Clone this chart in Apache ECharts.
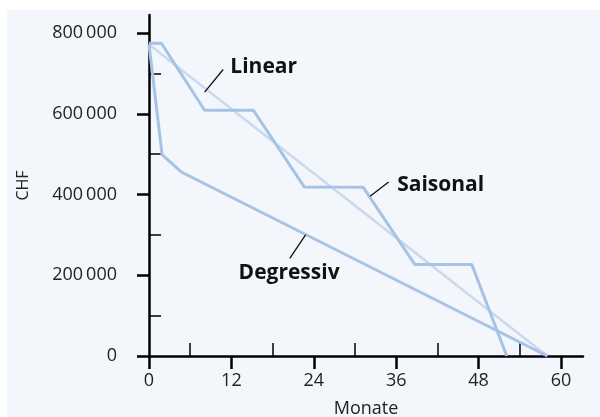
<!DOCTYPE html>
<html>
<head>
<meta charset="utf-8">
<script src="https://cdn.jsdelivr.net/npm/echarts@6/dist/echarts.min.js"></script>
<style>
  html, body { margin: 0; padding: 0; background: #ffffff; }
  #main { width: 600px; height: 417px; }
</style>
</head>
<body>
<div id="main"></div>
<script>
// Abschreibungsverläufe (Monate / CHF)
var linearMonths = [0, 58];
var linearValues = [772000, 0];

var saisonalMonths = [0, 1.8, 8.1, 15.2, 22.6, 31.2, 38.7, 47, 52.1];
var saisonalValues = [775000, 775000, 609000, 609000, 419000, 418000, 227000, 227000, 0];

var degressivMonths = [0, 1.9, 4.7, 58];
var degressivValues = [772000, 499000, 456000, 0];

var xMajorTicks = [0, 12, 24, 36, 48, 60];
var xMinorTicks = [6, 18, 30, 42, 54];
var yMajorTicks = [0, 200000, 400000, 600000, 800000];
var yMinorTicks = [100000, 300000, 500000, 700000];

function pairs(xs, ys) {
  return xs.map(function (x, i) { return [x, ys[i]]; });
}

function fmtCHF(v) {
  return String(v).replace(/\B(?=(\d{3})+(?!\d))/g, '\u2009');
}

var font = '"Open Sans", "Noto Sans", sans-serif';
var lineBlue = '#a6c3e6';
var lightBlue = '#cad9ee';

var labelStyle = {
  show: true,
  position: 'right',
  distance: 1,
  color: '#111111',
  fontFamily: font,
  fontWeight: 'bold',
  fontSize: 21
};

function note(name, coord) {
  return {
    symbol: 'circle',
    symbolSize: 0,
    silent: true,
    label: labelStyle,
    data: [{ coord: coord, value: name, label: { formatter: name } }]
  };
}

function leader(from, to) {
  return {
    symbol: 'none',
    silent: true,
    label: { show: false },
    lineStyle: { color: '#111111', width: 1.3, type: 'solid' },
    emphasis: { disabled: true },
    data: [[{ coord: from }, { coord: to }]]
  };
}

var xBase = {
  type: 'value', min: 0, max: 63.2,
  splitLine: { show: false }
};
var yBase = {
  type: 'value', min: 0, max: 845000,
  splitLine: { show: false }
};

option = {
  backgroundColor: '#ffffff',
  animation: false,
  graphic: [{
    type: 'rect',
    z: -10,
    shape: { x: 7, y: 10, width: 593, height: 407 },
    style: { fill: '#f3f7fc' }
  }],
  grid: { left: 149, right: 17, top: 15, bottom: 61, outerBoundsMode: 'none' },
  xAxis: [
    Object.assign({}, xBase, {
      name: 'Monate',
      nameLocation: 'middle',
      nameGap: 44,
      nameTextStyle: { color: '#222222', fontFamily: font, fontSize: 18 },
      axisLine: { show: true, lineStyle: { color: '#000000', width: 2.5 } },
      axisTick: { show: true, customValues: xMajorTicks, length: 13, lineStyle: { color: '#000000', width: 2.5 } },
      axisLabel: { customValues: xMajorTicks, margin: 16, color: '#222222', fontFamily: font, fontSize: 18 }
    }),
    Object.assign({}, xBase, {
      axisLine: { show: false },
      axisTick: { show: true, customValues: xMinorTicks, length: 13, lineStyle: { color: '#000000', width: 1.5 } },
      axisLabel: { show: false }
    })
  ],
  yAxis: [
    Object.assign({}, yBase, {
      name: 'CHF',
      nameLocation: 'middle',
      nameGap: 118,
      nameTextStyle: { color: '#222222', fontFamily: font, fontSize: 16 },
      axisLine: { show: true, lineStyle: { color: '#000000', width: 2.5 } },
      axisTick: { show: true, customValues: yMajorTicks, length: 12, lineStyle: { color: '#000000', width: 2.5 } },
      axisLabel: { customValues: yMajorTicks, margin: 32, color: '#222222', fontFamily: font, fontSize: 18, formatter: fmtCHF }
    }),
    Object.assign({}, yBase, {
      axisLine: { show: false },
      axisTick: { show: true, customValues: yMinorTicks, length: 12, lineStyle: { color: '#000000', width: 1.5 } },
      axisLabel: { show: false }
    })
  ],
  series: [
    {
      name: 'Linear',
      type: 'line',
      symbol: 'none',
      lineStyle: { color: lightBlue, width: 2.5 },
      data: pairs(linearMonths, linearValues),
      markLine: leader([8.1, 654000], [10.8, 710000]),
      markPoint: note('Linear', [11.7, 717000])
    },
    {
      name: 'Saisonal',
      type: 'line',
      symbol: 'none',
      lineStyle: { color: lineBlue, width: 3 },
      data: pairs(saisonalMonths, saisonalValues),
      markLine: leader([32.2, 396000], [34.9, 431000]),
      markPoint: note('Saisonal', [36.0, 423000])
    },
    {
      name: 'Degressiv',
      type: 'line',
      symbol: 'none',
      lineStyle: { color: lineBlue, width: 3 },
      data: pairs(degressivMonths, degressivValues),
      markLine: leader([20.5, 242000], [22.8, 300000]),
      markPoint: note('Degressiv', [12.9, 205000])
    }
  ]
};

var myChart = echarts.init(document.getElementById('main'));
myChart.setOption(option);
</script>
</body>
</html>
